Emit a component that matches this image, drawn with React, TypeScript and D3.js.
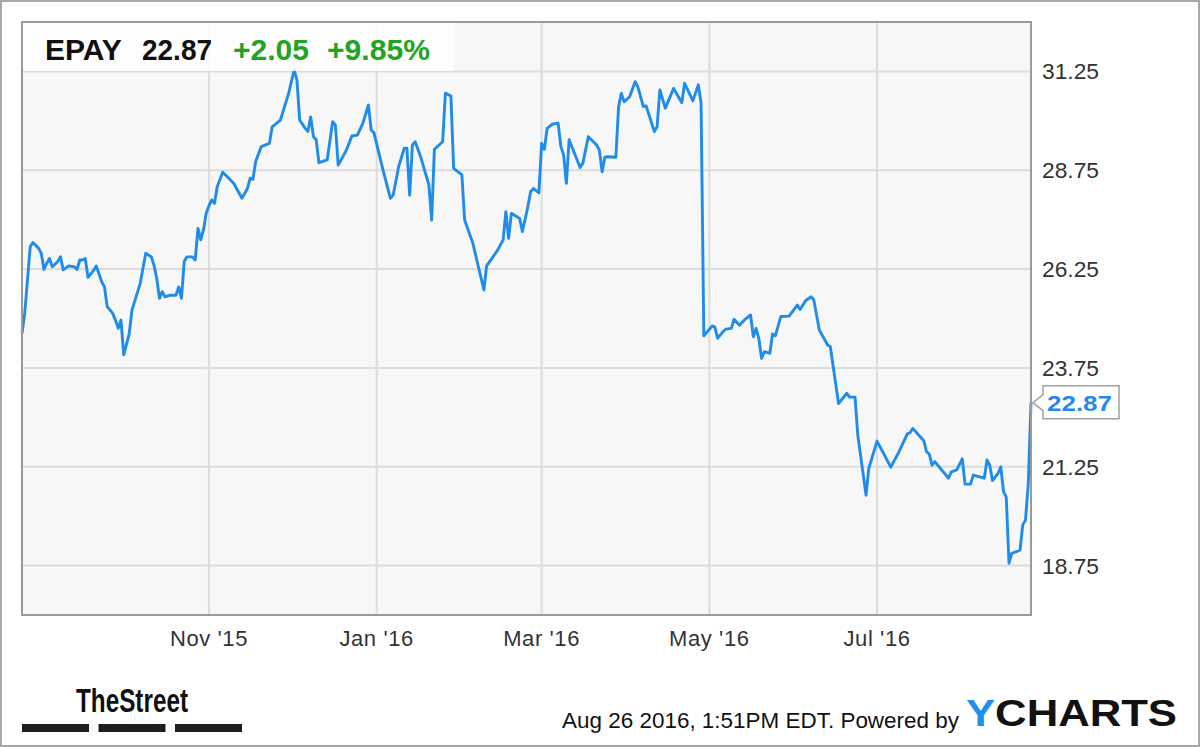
import React from "react";
import * as d3 from "d3";

const dates: string[] = [
  "2015-08-25","2015-08-26","2015-08-28","2015-08-29","2015-08-31","2015-09-01","2015-09-02","2015-09-03","2015-09-04","2015-09-05",
  "2015-09-07","2015-09-08","2015-09-09","2015-09-11","2015-09-13","2015-09-14","2015-09-15","2015-09-16","2015-09-17","2015-09-18",
  "2015-09-20","2015-09-21","2015-09-23","2015-09-24","2015-09-25","2015-09-27","2015-09-28","2015-09-29","2015-09-30","2015-10-01",
  "2015-10-03","2015-10-04","2015-10-07","2015-10-09","2015-10-11","2015-10-12","2015-10-13","2015-10-14","2015-10-15","2015-10-16",
  "2015-10-18","2015-10-20","2015-10-21","2015-10-22","2015-10-23","2015-10-24","2015-10-26","2015-10-27","2015-10-28","2015-10-29",
  "2015-10-30","2015-10-31","2015-11-01","2015-11-02","2015-11-03","2015-11-04","2015-11-06","2015-11-10","2015-11-13","2015-11-15",
  "2015-11-16","2015-11-17","2015-11-18","2015-11-20","2015-11-23","2015-11-24","2015-11-27","2015-11-30","2015-12-02","2015-12-03",
  "2015-12-04","2015-12-06","2015-12-07","2015-12-08","2015-12-09","2015-12-10","2015-12-11","2015-12-14","2015-12-16","2015-12-17",
  "2015-12-18","2015-12-21","2015-12-23","2015-12-25","2015-12-27","2015-12-29","2015-12-30","2015-12-31","2016-01-03","2016-01-06",
  "2016-01-07","2016-01-09","2016-01-11","2016-01-12","2016-01-13","2016-01-14","2016-01-15","2016-01-17","2016-01-20","2016-01-21",
  "2016-01-22","2016-01-25","2016-01-26","2016-01-28","2016-01-29","2016-02-01","2016-02-02","2016-02-05","2016-02-07","2016-02-09",
  "2016-02-10","2016-02-14","2016-02-16","2016-02-17","2016-02-18","2016-02-19","2016-02-22","2016-02-23","2016-02-25","2016-02-26",
  "2016-02-27","2016-02-29","2016-03-01","2016-03-02","2016-03-03","2016-03-05","2016-03-07","2016-03-08","2016-03-09","2016-03-10",
  "2016-03-11","2016-03-15","2016-03-16","2016-03-18","2016-03-21","2016-03-22","2016-03-23","2016-03-24","2016-03-25","2016-03-28",
  "2016-03-29","2016-03-30","2016-03-31","2016-04-02","2016-04-04","2016-04-05","2016-04-07","2016-04-08","2016-04-11","2016-04-12",
  "2016-04-13","2016-04-15","2016-04-18","2016-04-21","2016-04-22","2016-04-25","2016-04-27","2016-04-28","2016-04-29","2016-05-02",
  "2016-05-03","2016-05-04","2016-05-06","2016-05-07","2016-05-09","2016-05-10","2016-05-12","2016-05-14","2016-05-16","2016-05-17",
  "2016-05-18","2016-05-19","2016-05-20","2016-05-21","2016-05-23","2016-05-24","2016-05-25","2016-05-27","2016-05-30","2016-06-02",
  "2016-06-03","2016-06-05","2016-06-07","2016-06-08","2016-06-10","2016-06-12","2016-06-13","2016-06-14","2016-06-17","2016-06-20",
  "2016-06-21","2016-06-23","2016-06-24","2016-06-27","2016-06-28","2016-07-01","2016-07-06","2016-07-09","2016-07-12","2016-07-13",
  "2016-07-14","2016-07-18","2016-07-19","2016-07-20","2016-07-21","2016-07-22","2016-07-27","2016-07-28","2016-07-30","2016-08-01",
  "2016-08-02","2016-08-04","2016-08-05","2016-08-09","2016-08-10","2016-08-11","2016-08-12","2016-08-14","2016-08-15","2016-08-16",
  "2016-08-17","2016-08-18","2016-08-19","2016-08-22","2016-08-23","2016-08-24","2016-08-25","2016-08-26",
];

const prices: number[] = [
  24.62,25.14,26.82,26.92,26.78,26.65,26.24,26.40,26.52,26.31,
  26.44,26.56,26.23,26.33,26.31,26.24,26.48,26.48,26.52,26.04,
  26.21,26.33,25.93,25.80,25.30,25.13,24.96,24.75,24.96,24.08,
  24.62,25.21,25.89,26.65,26.56,26.35,26.02,25.51,25.68,25.55,
  25.59,25.59,25.80,25.51,26.44,26.56,26.56,26.48,27.28,26.99,
  27.24,27.66,27.85,28.00,27.91,28.33,28.70,28.42,28.04,28.29,
  28.55,28.52,28.97,29.35,29.43,29.85,30.02,30.70,31.29,31.03,
  30.02,29.81,29.73,30.10,29.60,29.52,28.94,29.01,29.98,29.89,
  28.88,29.26,29.62,29.64,29.94,30.40,29.77,29.70,28.84,28.04,
  28.12,28.84,29.30,29.31,28.12,29.39,29.47,29.09,28.38,27.49,
  29.28,29.47,30.70,30.63,28.80,28.63,27.49,26.90,26.31,25.72,
  26.33,26.73,26.99,27.70,27.03,27.66,27.53,27.20,27.83,28.21,
  28.29,28.18,29.43,29.28,29.81,29.92,29.94,29.35,29.14,28.42,
  29.52,28.82,28.93,29.60,29.39,29.26,28.71,29.08,29.09,29.08,
  30.36,30.70,30.48,30.61,30.99,30.86,30.36,30.38,29.73,29.85,
  30.78,30.32,30.82,30.46,30.95,30.51,30.91,30.45,24.56,24.81,
  24.79,24.50,24.67,24.73,24.75,24.98,24.83,24.98,25.09,24.54,
  24.75,24.50,23.99,24.16,24.12,24.61,24.56,25.05,25.06,25.34,
  25.23,25.45,25.55,25.47,24.71,24.46,24.33,24.29,22.85,23.11,
  23.01,23.01,22.05,20.53,21.21,21.90,21.24,21.63,22.08,22.11,
  22.22,21.91,21.63,21.57,21.29,21.38,20.96,21.12,21.17,21.45,
  20.81,20.81,21.04,20.96,21.42,21.29,20.90,21.08,21.25,20.62,
  20.48,18.81,19.06,19.14,19.78,19.90,20.82,22.87,
];

const yTicks: number[] = [18.75, 21.25, 23.75, 26.25, 28.75, 31.25];
const xTickDates: string[] = ["2015-11-01", "2016-01-01", "2016-03-01", "2016-05-01", "2016-07-01"];
const xTickLabels: string[] = ["Nov '15", "Jan '16", "Mar '16", "May '16", "Jul '16"];

const ticker = "EPAY";
const lastPrice = "22.87";
const change = "+2.05";
const changePct = "+9.85%";
const timestamp = "Aug 26 2016, 1:51PM EDT. Powered by";

const W = 1200;
const H = 747;
const plot = { left: 22, right: 1031, top: 22, bottom: 615 };
const FONT = "'Liberation Sans', Arial, Helvetica, sans-serif";
const LINE = "#1f8ceb";

export default function App() {
  const parse = d3.timeParse("%Y-%m-%d");
  const data = dates.map((d, i) => ({ date: parse(d) as Date, value: prices[i] }));
  const x = d3
    .scaleTime()
    .domain([parse("2015-08-25") as Date, parse("2016-08-26") as Date])
    .range([plot.left, plot.right]);
  const y = d3.scaleLinear().domain([17.5, 32.5]).range([plot.bottom, plot.top]);
  const line = d3
    .line<{ date: Date; value: number }>()
    .x((d) => x(d.date))
    .y((d) => y(d.value));

  const last = data[data.length - 1];
  const lx = x(last.date);
  const ly = y(last.value);
  const boxL = 1043;
  const boxR = 1119;
  const boxT = ly - 17;
  const boxB = ly + 16;
  const calloutPath = `M${boxL},${boxT} L${boxR},${boxT} L${boxR},${boxB} L${boxL},${boxB} L${boxL},${ly + 8} L${lx + 2},${ly} L${boxL},${ly - 8} Z`;

  return (
    <svg
      width={W}
      height={H}
      style={{ position: "absolute", left: 0, top: 0, background: "#fff", fontFamily: FONT }}
    >
      <rect x={1} y={1} width={W - 2} height={H - 2} fill="#fff" stroke="#a8a8a8" strokeWidth={2} />
      <rect
        x={plot.left}
        y={plot.top}
        width={plot.right - plot.left}
        height={plot.bottom - plot.top}
        fill="#f7f7f7"
      />
      {yTicks.map((t) => (
        <line key={"gy" + t} x1={plot.left} x2={plot.right} y1={y(t)} y2={y(t)} stroke="#dcdcdc" strokeWidth={2} />
      ))}
      {xTickDates.map((t) => {
        const xx = x(parse(t) as Date);
        return <line key={"gx" + t} x1={xx} x2={xx} y1={plot.top} y2={plot.bottom} stroke="#dcdcdc" strokeWidth={2} />;
      })}
      <path d={line(data) || ""} fill="none" stroke={LINE} strokeWidth={2.9} strokeLinejoin="round" />
      <rect
        x={plot.left}
        y={plot.top}
        width={plot.right - plot.left}
        height={plot.bottom - plot.top}
        fill="none"
        stroke="#9a9a9a"
        strokeWidth={2}
      />
      <rect x={plot.left + 1} y={plot.top + 1} width={431} height={48} fill="#fff" fillOpacity={0.78} />
      <g fontSize={30} fontWeight="bold">
        <text x={45} y={59.5} fill="#111">{ticker}</text>
        <text x={142} y={59.5} fill="#111" textLength={70} lengthAdjust="spacingAndGlyphs">{lastPrice}</text>
        <text x={233} y={59.5} fill="#22a322" textLength={76} lengthAdjust="spacingAndGlyphs">{change}</text>
        <text x={327} y={59.5} fill="#22a322" textLength={103} lengthAdjust="spacingAndGlyphs">{changePct}</text>
      </g>
      {yTicks.map((t) => (
        <text key={"ly" + t} x={1042} y={y(t) + 8} fontSize={22} fill="#333" textLength={57} lengthAdjust="spacingAndGlyphs">
          {t.toFixed(2)}
        </text>
      ))}
      {xTickDates.map((t, i) => (
        <text key={"lx" + t} x={x(parse(t) as Date)} y={646} fontSize={22} fill="#333" textAnchor="middle" letterSpacing={0.6}>
          {xTickLabels[i]}
        </text>
      ))}
      <path d={calloutPath} fill="#fff" stroke="#a0a0a0" strokeWidth={1.5} />
      <text x={1047} y={ly + 8} fontSize={22} fontWeight="bold" fill={LINE} textLength={65} lengthAdjust="spacingAndGlyphs">
        {lastPrice}
      </text>
      <text x={76} y={712} fontSize={34} fontWeight="bold" fill="#111" textLength={112} lengthAdjust="spacingAndGlyphs">
        TheStreet
      </text>
      {[0, 1, 2].map((i) => (
        <rect key={"bar" + i} x={22 + i * 76.5} y={724} width={67} height={8} fill="#1e1e1e" />
      ))}
      <text x={562} y={728} fontSize={22} fill="#111" textLength={397} lengthAdjust="spacingAndGlyphs">
        {timestamp}
      </text>
      <text x={966} y={726} fontSize={36} fontWeight="bold" textLength={211} lengthAdjust="spacingAndGlyphs">
        <tspan fill="#1e90f0">Y</tspan>
        <tspan fill="#111">CHARTS</tspan>
      </text>
    </svg>
  );
}
